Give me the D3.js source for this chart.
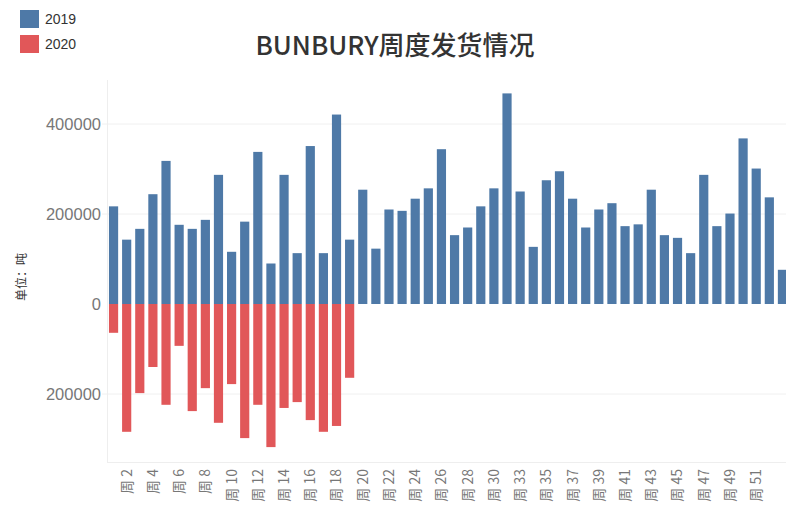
<!DOCTYPE html>
<html>
<head>
<meta charset="utf-8" />
<title>BUNBURY周度发货情况</title>
<script src="https://d3js.org/d3.v7.min.js"></script>
<style>
  body { margin: 0; background: #fff; }
  svg { display: block; }
</style>
</head>
<body>
<svg id="chart"></svg>
<script>
// week numbers on the x axis (week 31 has no row)
var weeks = [1, 2, 3, 4, 5, 6, 7, 8, 9, 10, 11, 12, 13, 14, 15, 16, 17, 18, 19, 20,
  21, 22, 23, 24, 25, 26, 27, 28, 29, 30, 32, 33, 34, 35, 36, 37, 38, 39, 40, 41,
  42, 43, 44, 45, 46, 47, 48, 49, 50, 51, 52, 53];

// tonnes shipped, 2019
var ship2019 = [217000, 143000, 167000, 244000, 318000, 176000, 167000, 187000, 287000, 116000,
  183000, 338000, 90000, 287000, 113000, 351000, 113000, 421000, 143000, 254000,
  123000, 210000, 207000, 234000, 257000, 344000, 153000, 170000, 217000, 257000,
  468000, 250000, 127000, 275000, 295000, 234000, 170000, 210000, 224000, 173000,
  177000, 254000, 153000, 147000, 113000, 287000, 173000, 201000, 368000, 301000,
  237000, 76000];

// tonnes shipped, 2020 (drawn below zero), weeks 1-19 only
var ship2020 = [64000, 284000, 198000, 140000, 224000, 93000, 238000, 187000, 264000, 178000,
  298000, 224000, 318000, 231000, 218000, 258000, 284000, 271000, 164000];

var yTicks = [400000, 200000, 0, -200000];
var seriesNames = ["2019", "2020"];
var colors = ["#4e79a7", "#e15759"];

var width = 786, height = 511;
var svg = d3.select("#chart").attr("width", width).attr("height", height);

var x = d3.scaleBand()
  .domain(weeks)
  .range([107, 789])
  .paddingInner(0.3)
  .paddingOuter(0.15);

var y = d3.scaleLinear()
  .domain([-200000, 400000])
  .range([394, 124]);

// grid + frame
svg.append("g").selectAll("line")
  .data(yTicks.filter(function(d) { return d != 0; }))
  .join("line")
  .attr("x1", 102).attr("x2", width)
  .attr("y1", function(d) { return y(d); })
  .attr("y2", function(d) { return y(d); })
  .attr("stroke", "#f0f0f0");

svg.append("line")
  .attr("x1", 107.5).attr("x2", 107.5)
  .attr("y1", 80).attr("y2", 463)
  .attr("stroke", "#eeeeee");
svg.append("line")
  .attr("x1", 107).attr("x2", width)
  .attr("y1", 462.5).attr("y2", 462.5)
  .attr("stroke", "#eeeeee");

// bars
svg.append("g").selectAll("rect")
  .data(ship2019)
  .join("rect")
  .attr("x", function(d, i) { return x(weeks[i]); })
  .attr("width", x.bandwidth())
  .attr("y", function(d) { return y(d); })
  .attr("height", function(d) { return y(0) - y(d); })
  .attr("fill", colors[0]);

svg.append("g").selectAll("rect")
  .data(ship2020)
  .join("rect")
  .attr("x", function(d, i) { return x(weeks[i]); })
  .attr("width", x.bandwidth())
  .attr("y", y(0))
  .attr("height", function(d) { return y(-d) - y(0); })
  .attr("fill", colors[1]);

// y axis
var yAxis = d3.axisLeft(y)
  .tickValues(yTicks)
  .tickFormat(function(d) { return Math.abs(d); })
  .tickSize(0)
  .tickPadding(0);
var gy = svg.append("g").attr("transform", "translate(101,0)").call(yAxis);
gy.select(".domain").remove();
gy.selectAll("text")
  .attr("fill", "#777")
  .style("font-family", "Liberation Sans, Arial, sans-serif")
  .style("font-size", "16.5px");

svg.append("text")
  .attr("transform", "translate(26,277) rotate(-90)")
  .attr("text-anchor", "middle")
  .attr("fill", "#333")
  .style("font-family", "Noto Sans CJK SC")
  .style("font-size", "12px")
  .text("单位：吨");

// x axis, every second week labelled (last one falls off the edge)
var xAxis = d3.axisBottom(x)
  .tickValues(weeks.filter(function(d, i) { return i % 2 == 1 && x(d) + x.bandwidth() < width - 10; }))
  .tickFormat(function(d) { return "周 " + d; })
  .tickSize(0)
  .tickPadding(0);
var gx = svg.append("g").attr("transform", "translate(0,469)").call(xAxis);
gx.select(".domain").remove();
gx.selectAll("text")
  .attr("transform", "rotate(-90)")
  .attr("text-anchor", "end")
  .attr("x", 0)
  .attr("y", 0)
  .attr("dy", "0.35em")
  .attr("fill", "#777")
  .style("font-family", "Noto Sans CJK SC")
  .style("font-size", "14px");

// title
svg.append("text")
  .attr("x", 395)
  .attr("y", 55)
  .attr("text-anchor", "middle")
  .attr("fill", "#333")
  .style("font-family", "Noto Sans CJK SC")
  .style("font-weight", "500")
  .style("font-size", "26px")
  .text("BUNBURY周度发货情况");

// legend
var legend = svg.append("g").selectAll("g")
  .data(seriesNames)
  .join("g")
  .attr("transform", function(d, i) { return "translate(20," + (10 + i * 25) + ")"; });
legend.append("rect")
  .attr("width", 19).attr("height", 18)
  .attr("fill", function(d, i) { return colors[i]; });
legend.append("text")
  .attr("x", 25).attr("y", 9)
  .attr("dy", "0.35em")
  .attr("fill", "#333")
  .style("font-family", "Liberation Sans, Arial, sans-serif")
  .style("font-size", "14px")
  .text(function(d) { return d; });
</script>
</body>
</html>
